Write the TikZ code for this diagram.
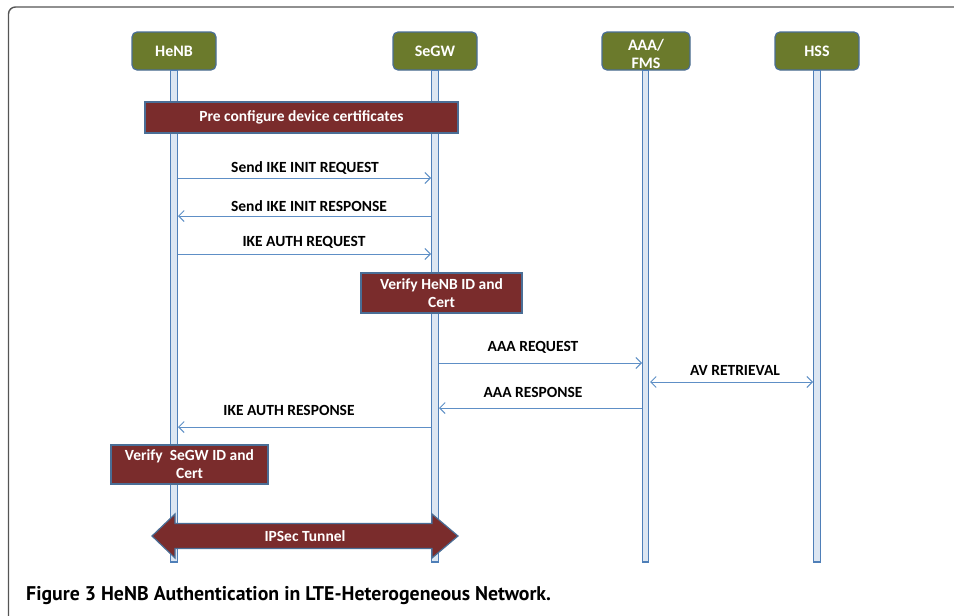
\documentclass[tikz,border=0pt]{standalone}
\usepackage{fontspec}
\setmainfont{Carlito}
\newfontfamily\capfont{PT Sans}
\usetikzlibrary{arrows.meta,calc}
\definecolor{headgreen}{HTML}{6B7A2C}
\definecolor{darkred}{HTML}{7A2C2C}
\definecolor{boxedge}{HTML}{4A6E96}
\definecolor{lifeblue}{HTML}{4F7FB8}
\definecolor{lifefill}{HTML}{DCE6F2}
\definecolor{arrowblue}{HTML}{5E8FC6}
\definecolor{framegray}{HTML}{555555}
\begin{document}
\begin{tikzpicture}[x=1pt,y=-1pt,
  every node/.style={font=\fontsize{15.5}{18}\selectfont\bfseries},
  head/.style={draw=boxedge,line width=1.2pt,fill=headgreen,rounded corners=5pt,
    minimum width=84pt,minimum height=38pt,text=white,inner sep=0pt,font=\fontsize{16}{18}\selectfont\bfseries},
  redbox/.style={draw=boxedge,line width=1.2pt,fill=darkred,text=white,align=center,inner sep=0pt},
  life/.style={draw=lifeblue,fill=lifefill,line width=1.3pt},
  msg/.style={draw=arrowblue,line width=1pt,-{Straight Barb[length=5.5pt,width=11pt]}},
  dmsg/.style={draw=arrowblue,line width=1pt,{Straight Barb[length=5.5pt,width=11pt]}-{Straight Barb[length=5.5pt,width=11pt]}},
  lbl/.style={text=black,inner sep=0pt}]
\useasboundingbox (0,0) rectangle (954,616);
% frame
\draw[framegray,line width=1.4pt,rounded corners=7pt] (8.5,620) -- (8.5,7) -- (960,7);
% heads
\node[head] (henb) at (174,51) {HeNB};
\node[head] (segw) at (435,51) {SeGW};
\node[head,minimum width=88pt] (aaa) at (646,51) {};
\node[head] (hss) at (817,51) {HSS};
\node[text=white,align=center,inner sep=0pt,font=\fontsize{16}{18}\selectfont\bfseries] (aaatext) at (646,54) {AAA/\\FMS};
% lifeline ends
\coordinate (henbend) at (174,562);
\coordinate (segwend) at (435,562);
\coordinate (aaaend) at (645,562);
\coordinate (hssend) at (817,562);
\foreach \h in {henb,segw,aaa,hss}{
  \path[life] ($(\h.south)+(-3.5,0)$) rectangle ($(\h end)+(3.5,0)$);
}
% pre configure
\node[redbox,minimum width=313pt,minimum height=31pt] (pre) at (301.5,117.5) {Pre configure device certificates};
% messages
\draw[msg] ($(henb.center |- 0,178)+(4,0)$) -- ($(segw.center |- 0,178)+(-4,0)$);
\node[lbl] (m1) at (305,168) {Send IKE INIT REQUEST};
\draw[msg] ($(segw.center |- 0,216)+(-4,0)$) -- ($(henb.center |- 0,216)+(4,0)$);
\node[lbl] (m2) at (309,206) {Send IKE INIT RESPONSE};
\draw[msg] ($(henb.center |- 0,254)+(4,0)$) -- ($(segw.center |- 0,254)+(-4,0)$);
\node[lbl] (m3) at (304,242) {IKE AUTH REQUEST};
\node[redbox,minimum width=161pt,minimum height=40pt] (vh) at (441.5,293) {Verify HeNB ID and\\Cert};
\draw[msg] ($(segw.center |- 0,363)+(4,0)$) -- ($(aaa.center |- 0,363)+(-4,0)$);
\node[lbl] (m4) at (533,347) {AAA REQUEST};
\draw[dmsg] ($(aaa.center |- 0,382)+(4,0)$) -- ($(hss.center |- 0,382)+(-4,0)$);
\node[lbl] (m5) at (735,370) {AV RETRIEVAL};
\draw[msg] ($(aaa.center |- 0,408)+(-4,0)$) -- ($(segw.center |- 0,408)+(4,0)$);
\node[lbl] (m6) at (533,392) {AAA RESPONSE};
\draw[msg] ($(segw.center |- 0,427)+(-4,0)$) -- ($(henb.center |- 0,427)+(4,0)$);
\node[lbl] (m7) at (289,410) {IKE AUTH RESPONSE};
\node[redbox,minimum width=157pt,minimum height=39pt] (vs) at (189.5,464.5) {Verify\ \ SeGW ID and\\Cert};
% IPSec tunnel
\draw[draw=boxedge,line width=1.2pt,fill=darkred,line join=miter]
  (152,536) -- (175,514) -- (175,523.5) -- (432,523.5) -- (432,514) -- (458,536)
  -- (432,558) -- (432,548.5) -- (175,548.5) -- (175,558) -- cycle;
\node[text=white,inner sep=0pt] (tun) at (305,536) {IPSec Tunnel};
% caption
\node[anchor=base west,inner sep=0pt,font=\capfont\bfseries\fontsize{19.8}{22}\selectfont] (cap) at (26,600)
  {Figure 3 HeNB Authentication in LTE-Heterogeneous Network.};
\end{tikzpicture}
\end{document}
